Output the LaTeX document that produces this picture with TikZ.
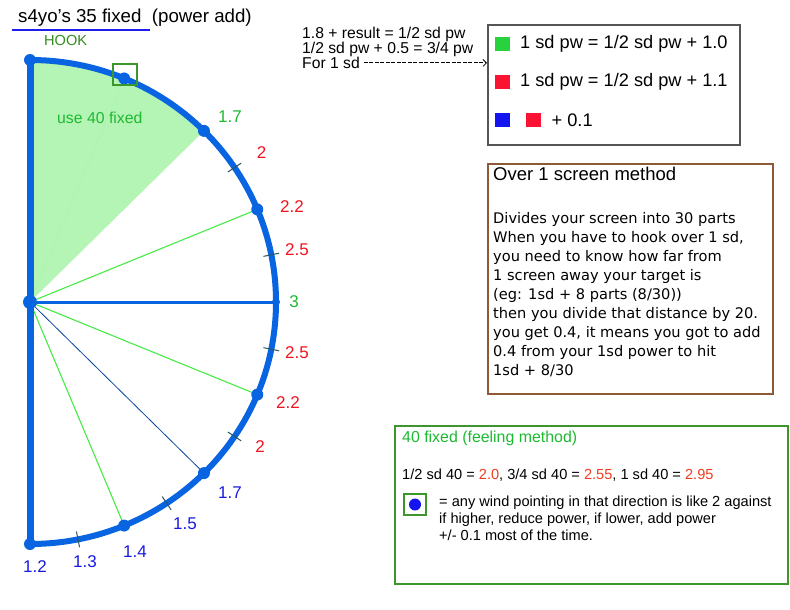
\documentclass[tikz,border=0pt]{standalone}
\usepackage{fontspec}
\setmainfont{Liberation Sans}
\newfontfamily\handfont{DejaVu Sans}
\usetikzlibrary{arrows.meta,positioning,calc}
\definecolor{arcblue}{RGB}{8,100,225}
\definecolor{raygreen}{RGB}{70,235,70}
\definecolor{sectorgreen}{RGB}{180,244,180}
\definecolor{tickgrey}{RGB}{45,85,95}
\definecolor{textgreen}{RGB}{30,185,50}
\definecolor{lblred}{RGB}{240,20,30}
\definecolor{lblblue}{RGB}{25,25,225}
\definecolor{hookgreen}{RGB}{50,140,30}
\definecolor{underblue}{RGB}{30,30,240}
\definecolor{swgreen}{RGB}{40,210,60}
\definecolor{swred}{RGB}{250,20,50}
\definecolor{swblue}{RGB}{20,20,240}
\definecolor{legendgrey}{RGB}{85,85,85}
\definecolor{notebrown}{RGB}{140,90,55}
\definecolor{boxgreen}{RGB}{60,150,45}
\definecolor{numred}{RGB}{240,60,30}

\begin{document}
\begin{tikzpicture}[x=1pt,y=-1pt,
 lbl/.style={anchor=base,inner sep=0pt,font=\fontsize{17}{20}\selectfont},
 txt/.style={anchor=base west,inner sep=0pt},
 ray/.style={draw=raygreen,line width=1.1pt},
 tick/.style={draw=tickgrey,line width=1pt},
 knob/.style={fill=arcblue,circle,inner sep=0pt,minimum size=12pt},
 swatch/.style={inner sep=0pt,minimum width=15pt,minimum height=14pt},
 panel/.style={anchor=north west,inner sep=0pt,line width=2pt},
 keybox/.style={draw=boxgreen,line width=2pt,inner sep=0pt,minimum width=23pt,minimum height=21pt}]
\useasboundingbox (0,0) rectangle (790,610);

% half circle of power values
\coordinate (o) at (30,302);
\foreach \ang/\nm in {-90/top,-67.5/hk,-45/u17,-22.5/u22,0/r3,22.5/l22,45/l17,67.5/l14,90/bot}
 \coordinate (\nm) at ($(o)+(\ang:246 and 242)$);
\fill[sectorgreen] (o) -- (top) arc[start angle=-90,end angle=-45,x radius=246,y radius=242] -- cycle;
\node[text=textgreen,txt,font=\fontsize{15.8}{18}\selectfont] (use40) at (57,123) {use 40 fixed};
\draw[draw=raygreen!45,line width=0.8pt] (o) -- (hk);
\draw[ray] (o) -- (u22);
\draw[ray] (o) -- (l22);
\draw[ray] (o) -- (l14);
\draw[draw=arcblue!70!black,line width=0.8pt] (o) -- (l17);
\draw[draw=arcblue,line width=3pt] (o) -- (r3);
\draw[draw=arcblue,line width=6pt] (top) arc[start angle=-90,end angle=90,x radius=246,y radius=242];
\draw[draw=arcblue,line width=7pt] (top) -- (bot);
\foreach \ang in {-33.75,-11.25,11.25,33.75,56.25,78.75}
 \draw[tick] ($(o)+(\ang:238 and 234)$) -- ($(o)+(\ang:254 and 250)$);
\node[knob,minimum size=14pt] (ctr) at (o) {};
\foreach \nm in {top,hk,u17,u22,l22,l17,l14,bot}
 \node[knob] (k-\nm) at (\nm) {};
\node[knob,minimum size=8pt] (k-r3) at (r3) {};
\node[keybox,minimum width=24pt] (hkbox) at ($(hk)+(1,-4)$) {};

% values round the rim
\foreach \px/\py/\t/\c [count=\i] in {230/122/1.7/textgreen,261.5/158/2/lblred,292/212/2.2/lblred,
 297/255/2.5/lblred,294/307/3/textgreen,297/358/2.5/lblred,288/408/2.2/lblred,260/452/2/lblred,
 230/498/1.7/lblblue,185/529/1.5/lblblue,135/557/1.4/lblblue,85/567/1.3/lblblue,35/572/1.2/lblblue}
 \node[lbl,text=\c] (val\i) at (\px,\py) {\t};

% title
\node[txt,font=\fontsize{18.7}{22}\selectfont] (title) at (18,23) {s4yo\char39 s 35 fixed\ \ (power add)};
\draw[draw=underblue,line width=2pt] (12,30) -- (150,30);
\node[txt,text=hookgreen,font=\fontsize{14.6}{17}\selectfont] (hook) at (44,46) {HOOK};

% notes at the top
\node[txt,font=\fontsize{15.7}{15}\selectfont] (rule1) at (302,38.3) {1.8 + result = 1/2 sd pw};
\node[txt,font=\fontsize{15.7}{15}\selectfont] (rule2) at (302,53.3) {1/2 sd pw + 0.5 = 3/4 pw};
\node[txt,font=\fontsize{15.7}{15}\selectfont] (forsd) at (302,68.5) {For 1 sd};

% legend
\node[panel,draw=legendgrey,minimum width=252pt,minimum height=120pt] (legend) at (487,24) {};
\draw[line width=0.8pt,dash pattern=on 4pt off 1.5pt,-{Straight Barb[length=3.5pt,width=7pt]}]
 ([xshift=4pt]forsd.east) -- (legend.west |- forsd.east);
\node[swatch,fill=swgreen] (swg) at (502.5,44) {};
\node[swatch,fill=swred] (swr) at (502.5,82.5) {};
\node[swatch,fill=swblue] (swb) at (502.5,120) {};
\node[swatch,fill=swred] (swr2) at (533.5,120) {};
\node[txt,font=\fontsize{18.2}{20}\selectfont] (leg1) at (520,48.3) {1 sd pw = 1/2 sd pw + 1.0};
\node[txt,font=\fontsize{18.2}{20}\selectfont] (leg2) at (520,86.7) {1 sd pw = 1/2 sd pw + 1.1};
\node[txt,font=\fontsize{18.2}{20}\selectfont] (leg3) at (551.5,126) {+ 0.1};

% over 1 screen method
\node[panel,draw=notebrown,minimum width=285pt,minimum height=230pt] (screen) at (487,163) {};
\node[txt,font=\fontsize{18.5}{22}\selectfont] (screenhead) at (493,180.7) {Over 1 screen method};
\foreach \t [count=\i from 0] in {Divides your screen into 30 parts,{When you have to hook over 1 sd,},
 you need to know how far from,1 screen away your target is,(eg: 1sd + 8 parts (8/30)),
 then you divide that distance by 20.,{you get 0.4, it means you got to add},
 0.4 from your 1sd power to hit,1sd + 8/30}
 \node[txt,font=\handfont\fontsize{14.6}{19}\selectfont] (screen\i) at (493,223.3+19*\i) {\t};

% 40 fixed
\node[panel,draw=boxgreen,minimum width=393pt,minimum height=158pt] (feel) at (394,425) {};
\node[txt,text=textgreen,font=\fontsize{15.9}{18}\selectfont] (feelhead) at (402,442.7) {40 fixed (feeling method)};
\node[txt,font=\fontsize{14.6}{17}\selectfont] (feel40) at (402,479.3)
 {1/2 sd 40 = \textcolor{numred}{2.0}, 3/4 sd 40 = \textcolor{numred}{2.55}, 1 sd 40 = \textcolor{numred}{2.95}};
\node[keybox,minimum width=22pt] (windkey) at (415,504.5) {};
\node[knob,fill=swblue,minimum size=12pt] (winddot) at (windkey.center) {};
\node[txt,font=\fontsize{14.6}{17}\selectfont] (wind1) at (439,506) {= any wind pointing in that direction is like 2 against};
\node[txt,font=\fontsize{14.6}{17}\selectfont] (wind2) at (439,523.3) {if higher, reduce power, if lower, add power};
\node[txt,font=\fontsize{14.6}{17}\selectfont] (wind3) at (439,540.7) {+/- 0.1 most of the time.};
\end{tikzpicture}
\end{document}
